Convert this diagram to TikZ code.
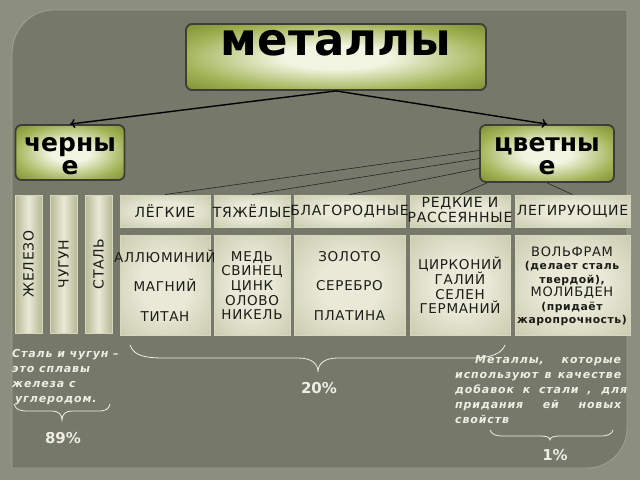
\documentclass[tikz,border=0pt]{standalone}
\usepackage{fontspec}
\setmainfont{DejaVu Sans}
\newfontfamily\spfont[LetterSpace=5]{DejaVu Sans}
\newfontfamily\notefont[LetterSpace=8]{DejaVu Sans}
\usetikzlibrary{arrows.meta,calc}
\definecolor{outerbg}{RGB}{140,142,126}
\definecolor{panelbg}{RGB}{118,120,106}
\definecolor{panelline}{RGB}{160,162,145}
\definecolor{glight}{RGB}{242,245,225}
\definecolor{gmid}{RGB}{160,178,84}
\definecolor{gdark}{RGB}{110,128,38}
\definecolor{gborder}{RGB}{62,62,54}
\definecolor{plight}{RGB}{232,233,214}
\definecolor{pdark}{RGB}{182,184,150}
\definecolor{pborder}{RGB}{214,216,190}
\definecolor{inktext}{RGB}{28,28,24}
\definecolor{whitetext}{RGB}{238,238,226}
\pgfdeclareradialshading{greenglow}{\pgfpoint{0bp}{0bp}}{color(0bp)=(glight); color(9bp)=(glight); color(26bp)=(gmid); color(40bp)=(gdark); color(50bp)=(gdark)}
\pgfdeclareradialshading{paleglow}{\pgfpoint{0bp}{0bp}}{color(0bp)=(plight); color(14bp)=(plight); color(50bp)=(pdark)}
\tikzset{
  greenbox/.style={draw=gborder, line width=1.8pt, rounded corners=6pt, shading=greenglow},
  palebox/.style={draw=pborder, line width=0.9pt, shading=paleglow, inner sep=0pt},
  colbox/.style={draw=pborder, line width=0.9pt, left color=pdark, right color=pdark, middle color=plight, inner sep=0pt, minimum width=27pt, minimum height=138pt},
  hdrbox/.style={palebox, minimum height=32pt},
  bodybox/.style={palebox, minimum height=100pt},
  hdrtxt/.style={text=inktext, font=\spfont\fontsize{14}{15.5}\selectfont, align=center, inner sep=0pt},
  bodytxt/.style={text=inktext, align=center, inner sep=0pt},
  titletxt/.style={text=black, font=\bfseries\fontsize{25}{25}\selectfont, anchor=base, inner sep=0pt},
  conn/.style={draw=black, line width=1.4pt},
  thin/.style={draw=black!85, line width=0.6pt},
  notetxt/.style={text=whitetext, font=\notefont\bfseries\itshape\fontsize{11}{15}\selectfont, inner sep=0pt},
  pcttxt/.style={text=whitetext, font=\bfseries\fontsize{15}{15}\selectfont, inner sep=0pt},
  bracestyle/.style={draw=whitetext, line width=0.8pt}
}
\begin{document}
\begin{tikzpicture}[x=1pt,y=-1pt]
\fill[outerbg] (0,0) rectangle (640,480);
\useasboundingbox (0,0) rectangle (640,480);
% panel
\filldraw[fill=panelbg, draw=panelline, line width=0.8pt]
  (12,468) -- (12,54) .. controls (12,31) and (29,10) .. (54,10) -- (627,10)
  -- (627,428) .. controls (627,450) and (609,468) .. (587,468) -- cycle;

% top boxes
\node[greenbox, minimum width=300pt, minimum height=66pt] (met) at (336,57) {};
\node[text=black, font=\bfseries\fontsize{45}{45}\selectfont, inner sep=0pt] (mett) at (336,43.5) {металлы};
\node[greenbox, minimum width=109pt, minimum height=55pt] (blk) at (70,152.5) {};
\node[titletxt] (blkt1) at (70,151) {черны};
\node[titletxt] (blkt2) at (70,174) {е};
\node[greenbox, minimum width=134pt, minimum height=57pt] (col) at (547,153.5) {};
\node[titletxt] (colt1) at (547,151) {цветны};
\node[titletxt] (colt2) at (547,174) {е};

\draw[conn, -{To[length=5pt,width=9pt]}] (met.south) -- (blk.north);
\draw[conn, -{To[length=5pt,width=9pt]}] (met.south) -- (col.north);

% columns
\node[colbox] (fe) at (28.5,264) {};
\node[rotate=90, text=inktext, font=\spfont\fontsize{14}{14}\selectfont, inner sep=0pt] (fet) at (fe.center) {ЖЕЛЕЗО};
\node[colbox] (ci) at (63.5,264) {};
\node[rotate=90, text=inktext, font=\spfont\fontsize{14}{14}\selectfont, inner sep=0pt] (cit) at (ci.center) {ЧУГУН};
\node[colbox] (st) at (98.5,264) {};
\node[rotate=90, text=inktext, font=\spfont\fontsize{14}{14}\selectfont, inner sep=0pt] (stt) at (st.center) {СТАЛЬ};

% headers
\node[hdrbox, minimum width=90pt] (h1) at (165,211) {};
\node[hdrtxt] (h1t) at (h1.center) {ЛЁГКИЕ};
\node[hdrbox, minimum width=76pt] (h2) at (252,211) {};
\node[hdrtxt] (h2t) at (h2.center) {ТЯЖЁЛЫЕ};
\node[hdrbox, minimum width=111pt] (h3) at (349.5,211) {};
\node[hdrtxt] (h3t) at (h3.center) {БЛАГОРОДНЫЕ};
\node[hdrbox, minimum width=100pt] (h4) at (460,211) {};
\node[hdrtxt] (h4t) at (460,210) {РЕДКИЕ И\\РАССЕЯННЫЕ};
\node[hdrbox, minimum width=115pt] (h5) at (572.5,211) {};
\node[hdrtxt] (h5t) at (h5.center) {ЛЕГИРУЮЩИЕ};

% connectors from цветные
\draw[thin] ([yshift=3pt]col.west) -- (h1.north);
\draw[thin] ([yshift=-5pt]col.west) -- (h2.north);
\draw[thin] ([yshift=-15pt]col.west) -- (h3.north);
\draw[thin] ([xshift=8pt]col.south west) -- (h4.north);
\draw[thin] (col.south) -- (h5.north);

% bodies
\node[bodybox, minimum width=90pt] (b1) at (165,285) {};
\node[bodytxt, font=\spfont\fontsize{13.5}{29.5}\selectfont] (b1t) at (165,285.5) {АЛЛЮМИНИЙ\\МАГНИЙ\\ТИТАН};
\node[bodybox, minimum width=76pt] (b2) at (252,285) {};
\node[bodytxt, font=\spfont\fontsize{13.5}{14.7}\selectfont] (b2t) at (252,285.5) {МЕДЬ\\СВИНЕЦ\\ЦИНК\\ОЛОВО\\НИКЕЛЬ};
\node[bodybox, minimum width=111pt] (b3) at (349.5,285) {};
\node[bodytxt, font=\spfont\fontsize{13.5}{29.5}\selectfont] (b3t) at (349.5,285.5) {ЗОЛОТО\\СЕРЕБРО\\ПЛАТИНА};
\node[bodybox, minimum width=100pt] (b4) at (460,285) {};
\node[bodytxt, font=\spfont\fontsize{13.5}{14.7}\selectfont] (b4t) at (460,285.5) {ЦИРКОНИЙ\\ГАЛИЙ\\СЕЛЕН\\ГЕРМАНИЙ};
\node[bodybox, minimum width=115pt] (b5) at (572.5,285) {};
\node[bodytxt, font=\spfont\bfseries\fontsize{10.8}{13.5}\selectfont] (b5t) at (572,286.5)
  {{\mdseries\fontsize{13}{13.5}\selectfont ВОЛЬФРАМ}\\(делает сталь\\твердой),\\{\mdseries\fontsize{13}{13.5}\selectfont МОЛИБДЕН}\\(придаёт\\жаропрочность)};

% notes
\node[notetxt, anchor=north west, align=left] (n1) at (12,349)
  {Сталь и чугун –\\это сплавы\\железа с\\\hspace*{3pt}углеродом.};
\node[notetxt, anchor=north west, align=left] (n2) at (455,355)
  {\hspace*{20pt}\makebox[146pt][s]{Металлы, \ которые}\\
   \makebox[166pt][s]{используют в качестве}\\
   \makebox[172pt][s]{добавок к стали , для}\\
   \makebox[166pt][s]{придания ей новых}\\
   свойств};

% braces
\draw[bracestyle] (130,345) .. controls (134,356) and (145,358) .. (165,358) -- (298,358)
   .. controls (312,358) and (318,364) .. (318,372)
   .. controls (318,364) and (324,358) .. (338,358) -- (472,358)
   .. controls (492,358) and (502,353) .. (505,345);
\draw[bracestyle] (14,404) .. controls (16,410) and (20,411) .. (28,411) -- (52,411)
   .. controls (58,411) and (62,414) .. (62,420)
   .. controls (62,414) and (66,411) .. (72,411) -- (98,411)
   .. controls (106,411) and (109,409) .. (110,404);
\draw[bracestyle] (490,430) .. controls (492,435) and (496,436) .. (504,436) -- (540,436)
   .. controls (546,436) and (550,437) .. (550,440)
   .. controls (550,437) and (554,436) .. (560,436) -- (600,436)
   .. controls (608,436) and (612,434) .. (613,430);

\node[pcttxt] (p20) at (319,388) {20\%};
\node[pcttxt] (p89) at (63,438) {89\%};
\node[pcttxt] (p1) at (555,455) {1\%};
\end{tikzpicture}
\end{document}
